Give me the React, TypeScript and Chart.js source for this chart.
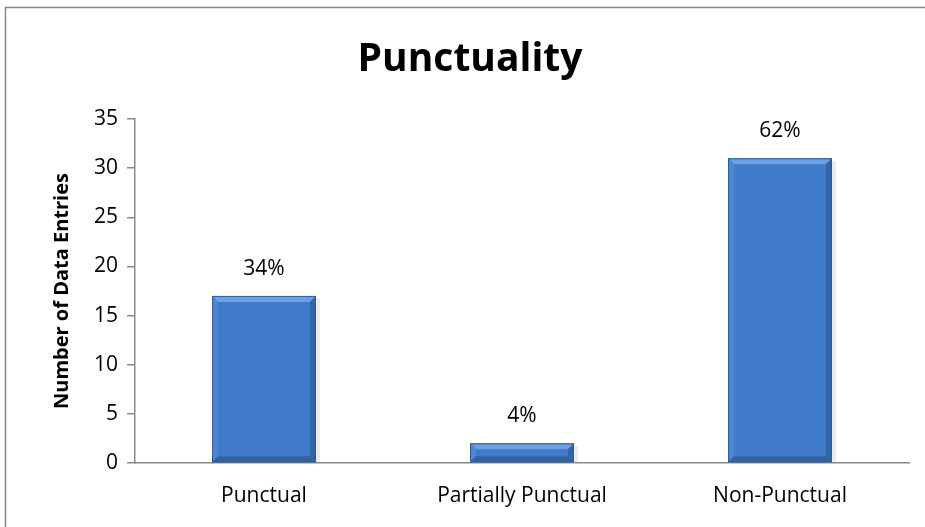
import React, { useEffect, useRef } from "react";
import { Chart, registerables } from "chart.js";

Chart.register(...registerables);

const categories = ["Punctual", "Partially Punctual", "Non-Punctual"];
const entries = [17, 2, 31];
const percentLabels = ["34%", "4%", "62%"];
const yTicks = [0, 5, 10, 15, 20, 25, 30, 35];
const chartTitle = "Punctuality";
const yTitle = "Number of Data Entries";

const FONT = "'Open Sans', 'Noto Sans', sans-serif";

const framePlugin = {
  id: "frame",
  beforeDraw(chart: any) {
    const ctx = chart.ctx;
    ctx.save();
    ctx.fillStyle = "#ffffff";
    ctx.fillRect(0, 0, chart.width, chart.height);
    ctx.strokeStyle = "#868686";
    ctx.lineWidth = 1.5;
    ctx.strokeRect(5.5, 7.5, chart.width + 40, chart.height + 40);
    ctx.fillStyle = "#000000";
    ctx.font = `bold 39px ${FONT}`;
    ctx.textAlign = "center";
    ctx.textBaseline = "middle";
    ctx.fillText(chartTitle, 470, 60);
    ctx.restore();
  },
  beforeDatasetsDraw(chart: any) {
    const ctx = chart.ctx;
    const meta = chart.getDatasetMeta(0);
    ctx.save();
    meta.data.forEach((bar: any) => {
      const x0 = bar.x - bar.width / 2;
      const w = bar.width;
      const h = bar.base - bar.y;
      ctx.fillStyle = "rgba(0,0,0,0.08)";
      ctx.fillRect(x0 + 2, bar.y + 3, w + 2, h - 3);
    });
    ctx.restore();
  },
  afterDatasetsDraw(chart: any) {
    const ctx = chart.ctx;
    const meta = chart.getDatasetMeta(0);
    ctx.save();
    meta.data.forEach((bar: any, i: number) => {
      const x0 = bar.x - bar.width / 2;
      const x1 = bar.x + bar.width / 2;
      const top = bar.y;
      const base = bar.base;
      const b = 6;
      ctx.fillStyle = "#6CA0E3";
      ctx.beginPath();
      ctx.moveTo(x0, top);
      ctx.lineTo(x1, top);
      ctx.lineTo(x1 - b, top + b);
      ctx.lineTo(x0 + b, top + b);
      ctx.closePath();
      ctx.fill();
      ctx.fillStyle = "#4B87D5";
      ctx.beginPath();
      ctx.moveTo(x0, top);
      ctx.lineTo(x0 + b, top + b);
      ctx.lineTo(x0 + b, base - b);
      ctx.lineTo(x0, base);
      ctx.closePath();
      ctx.fill();
      ctx.fillStyle = "#3264A6";
      ctx.beginPath();
      ctx.moveTo(x1, top);
      ctx.lineTo(x1 - b, top + b);
      ctx.lineTo(x1 - b, base - b);
      ctx.lineTo(x1, base);
      ctx.closePath();
      ctx.fill();
      ctx.fillStyle = "#3462A0";
      ctx.beginPath();
      ctx.moveTo(x0, base);
      ctx.lineTo(x0 + b, base - b);
      ctx.lineTo(x1 - b, base - b);
      ctx.lineTo(x1, base);
      ctx.closePath();
      ctx.fill();
      ctx.strokeStyle = "#2F5C97";
      ctx.lineWidth = 1;
      ctx.strokeRect(x0 + 0.5, top + 0.5, x1 - x0 - 1, base - top - 1);

      ctx.fillStyle = "#000000";
      ctx.font = `21px ${FONT}`;
      ctx.textAlign = "center";
      ctx.textBaseline = "middle";
      ctx.fillText(percentLabels[i], bar.x, top - 27);
    });
    ctx.restore();
  },
};

export default function App() {
  const ref = useRef<HTMLCanvasElement | null>(null);
  useEffect(() => {
    document.body.style.margin = "0";
    if (!ref.current) return;
    const chart = new Chart(ref.current, {
      type: "bar",
      data: {
        labels: categories,
        datasets: [
          {
            data: entries,
            backgroundColor: (c: any) => {
              const el = c.element;
              if (!el || el.y === undefined || el.base === undefined) return "#3F7BC9";
              const g = c.chart.ctx.createLinearGradient(0, el.y, 0, el.base);
              g.addColorStop(0, "#4583D3");
              g.addColorStop(1, "#3A70B9");
              return g;
            },
            borderWidth: 0,
            barPercentage: 1,
            categoryPercentage: 0.403,
          },
        ],
      },
      options: {
        animation: false,
        responsive: false,
        maintainAspectRatio: false,
        layout: { padding: { top: 119, right: 16, left: 0, bottom: 0 } },
        plugins: {
          legend: { display: false },
          title: { display: false },
          tooltip: { enabled: false },
        },
        scales: {
          x: {
            grid: { display: false, drawTicks: false },
            border: { display: true, color: "#8a8a8a", width: 1.5 },
            ticks: {
              color: "#000",
              font: { family: FONT, size: 21 },
              padding: 20,
            },
            afterFit: (s: any) => {
              s.height = 64;
            },
          },
          y: {
            min: 0,
            max: 35,
            afterBuildTicks: (s: any) => {
              s.ticks = yTicks.map((v) => ({ value: v }));
            },
            grid: {
              drawOnChartArea: false,
              drawTicks: true,
              tickLength: 8,
              color: "#8a8a8a",
              lineWidth: 1.5,
            },
            border: { display: true, color: "#8a8a8a", width: 1.5 },
            ticks: {
              color: "#000",
              font: { family: FONT, size: 21 },
              padding: 9,
            },
            title: {
              display: true,
              text: yTitle,
              color: "#000",
              font: { family: FONT, size: 20, weight: "bold" },
              padding: { top: 50, bottom: 0 },
            },
            afterFit: (s: any) => {
              s.width = 135;
            },
          },
        },
      },
      plugins: [framePlugin],
    });
    return () => chart.destroy();
  }, []);
  return (
    <div style={{ position: "absolute", left: 0, top: 0, width: 925, height: 527 }}>
      <canvas ref={ref} width={925} height={527} style={{ display: "block" }} />
    </div>
  );
}
